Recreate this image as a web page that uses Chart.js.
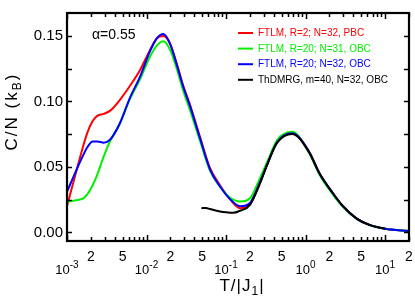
<!DOCTYPE html>
<html><head><meta charset="utf-8">
<script src="https://cdn.jsdelivr.net/npm/chart.js@4"></script>
<style>html,body{margin:0;padding:0;background:#fff}canvas{display:block}</style>
</head><body>
<canvas id="c" width="415" height="305"></canvas>
<script>
const FONT = '"Liberation Sans", Arial, Helvetica, sans-serif';

// ---- data ----
const temps = [0.001,0.0013,0.0016,0.0018,0.0021,0.0024,0.0029,0.0035,0.0046,0.0062,0.0083,0.011,0.0134,0.0163,0.0198,0.024,0.029,0.035,0.047,0.063,0.084,0.11,0.15,0.2,0.27,0.33,0.44,0.68,1.1,1.5,2.2,2.9,4.4,6.5,10,20];
const cR2PBC = [0.020,0.046,0.066,0.076,0.085,0.089,0.0905,0.093,0.101,0.112,0.124,0.139,0.148,0.150,0.144,0.129,0.112,0.098,0.073,0.049,0.036,0.026,0.0185,0.0215,0.039,0.052,0.069,0.0757,0.062,0.045,0.030,0.0205,0.0105,0.0055,0.0028,0.001];
const cR20N31 = [0.0234,0.0245,0.026,0.029,0.036,0.044,0.058,0.070,0.083,0.102,0.117,0.134,0.1425,0.146,0.1395,0.125,0.108,0.094,0.070,0.047,0.035,0.027,0.0235,0.026,0.042,0.054,0.0705,0.0768,0.061,0.044,0.029,0.020,0.0102,0.0054,0.0028,0.001];
const cR20N32 = [0.031,0.047,0.059,0.065,0.0695,0.0695,0.0685,0.071,0.083,0.103,0.119,0.138,0.148,0.1515,0.144,0.128,0.111,0.097,0.072,0.048,0.035,0.026,0.020,0.0225,0.039,0.052,0.069,0.0758,0.062,0.045,0.030,0.0205,0.0105,0.0055,0.0028,0.001];
const dmrgT = [0.049,0.056,0.063,0.084,0.1,0.122,0.15,0.2,0.27,0.33,0.44,0.68,1.1,1.5,2.2,2.9,4.4,6.5,10];
const cDMRG = [0.0185,0.0187,0.0178,0.016,0.0153,0.0149,0.0165,0.021,0.038,0.052,0.0685,0.0752,0.0615,0.045,0.030,0.0205,0.0105,0.0055,0.0028];

const seriesLabels = ['FTLM, R=2; N=32, PBC','FTLM, R=20; N=31, OBC','FTLM, R=20; N=32, OBC','ThDMRG, m=40, N=32, OBC'];
const seriesColors = ['#ff0000','#00f000','#0000ff','#000000'];

const yTickVals = [0,0.025,0.05,0.075,0.1,0.125,0.15];
const yLabelVals = [0,0.05,0.10,0.15];
const yLabels = ['0.00','0.05','0.10','0.15'];
const xMinorLabelVals = [0.002,0.005,0.02,0.05,0.2,0.5,2,5,20];
const xMinorLabels = ['2','5','2','5','2','5','2','5','2'];
const xDecadeVals = [0.001,0.01,0.1,1,10];
const xDecadeExp = ['-3','-2','-1','0','1'];
const annotation = 'α=0.55';

const pts = (xs, ys) => xs.map((x,i)=>({x, y: ys[i]}));
const xTickVals = [];
for (let e=-3;e<=1;e++) for (let m=1;m<=9;m++){ const v=m*Math.pow(10,e); if (v<=20.0001) xTickVals.push(+v.toPrecision(3)); }
xTickVals.push(20);

function ds(i, data, order){
  return {label: seriesLabels[i], data, borderColor: seriesColors[i], borderWidth: 2, pointRadius: 0,
    showLine: true, fill: false, cubicInterpolationMode: 'monotone', order};
}

function drawParts(ctx, parts, spacing){
  ctx.letterSpacing = spacing + 'px';
  let total = 0;
  parts.forEach(p=>{ ctx.font = p.size+'px '+FONT; p.w = ctx.measureText(p.t).width; total += p.w; });
  let x = -total/2;
  parts.forEach(p=>{ ctx.font = p.size+'px '+FONT; ctx.fillText(p.t, x, p.dy||0); x += p.w; });
  ctx.letterSpacing = '0px';
}

const deco = {
  id: 'deco',
  afterDraw(chart){
    const ctx = chart.ctx, a = chart.chartArea, xs = chart.scales.x, ys = chart.scales.y;
    ctx.save();
    ctx.strokeStyle = '#000'; ctx.fillStyle = '#000'; ctx.lineWidth = 1.5;
    // x ticks (inward, bottom & top)
    ctx.beginPath();
    xTickVals.forEach(v=>{
      const px = Math.round(xs.getPixelForValue(v))+0.5;
      const major = xDecadeVals.some(d=>Math.abs(d-v)<1e-9);
      const L = major ? 6 : 4;
      ctx.moveTo(px, a.bottom); ctx.lineTo(px, a.bottom-L);
      ctx.moveTo(px, a.top); ctx.lineTo(px, a.top+L);
    });
    // y ticks (inward, left & right)
    yTickVals.forEach(v=>{
      const py = Math.round(ys.getPixelForValue(v))+0.5;
      ctx.moveTo(a.left, py); ctx.lineTo(a.left+5, py);
      ctx.moveTo(a.right, py); ctx.lineTo(a.right-5, py);
    });
    ctx.stroke();
    // frame
    ctx.lineWidth = 2.2;
    ctx.strokeRect(a.left, a.top, a.right-a.left, a.bottom-a.top);
    // x tick labels
    ctx.textAlign = 'center'; ctx.textBaseline = 'alphabetic';
    ctx.font = '14px '+FONT;
    xMinorLabelVals.forEach((v,i)=>{
      ctx.fillText(xMinorLabels[i], xs.getPixelForValue(v), 261);
    });
    xDecadeVals.forEach((v,i)=>{
      const px = xs.getPixelForValue(v);
      ctx.font = '13px '+FONT; const w1 = ctx.measureText('10').width;
      ctx.font = '10px '+FONT; const w2 = ctx.measureText(xDecadeExp[i]).width;
      const x0 = px - (w1+w2)/2;
      ctx.textAlign = 'left';
      ctx.font = '13px '+FONT; ctx.fillText('10', x0, 274);
      ctx.font = '10px '+FONT; ctx.fillText(xDecadeExp[i], x0+w1, 268);
      ctx.textAlign = 'center';
    });
    // axis titles
    ctx.textAlign = 'left';
    ctx.save(); ctx.translate(242, 291);
    drawParts(ctx, [{t:'T/|J',size:17},{t:'1',size:12,dy:4},{t:'|',size:17}], 1);
    ctx.restore();
    ctx.save(); ctx.translate(17, 111.5); ctx.rotate(-Math.PI/2);
    drawParts(ctx, [{t:'C/N (k',size:17},{t:'B',size:12,dy:4},{t:')',size:17}], 2);
    ctx.restore();
    // annotation
    ctx.font = '14px '+FONT; ctx.fillText(annotation, 92, 39);
    // legend
    ctx.font = '10px '+FONT; ctx.textBaseline = 'middle';
    chart.data.datasets.forEach((d,i)=>{
      const y = 33 + i*15.6;
      ctx.strokeStyle = d.borderColor; ctx.lineWidth = 2;
      ctx.beginPath(); ctx.moveTo(238, y); ctx.lineTo(253, y); ctx.stroke();
      ctx.fillStyle = d.borderColor; ctx.fillText(d.label, 258, y+0.5);
    });
    ctx.restore();
  }
};

new Chart(document.getElementById('c'), {
  type: 'scatter',
  data: { datasets: [
    ds(0, pts(temps, cR2PBC), 3),
    ds(1, pts(temps, cR20N31), 2),
    ds(2, pts(temps, cR20N32), 1),
    ds(3, pts(dmrgT, cDMRG), 0)
  ]},
  options: {
    responsive: false, devicePixelRatio: 1, animation: false,
    layout: { padding: { top: 3, right: 6, left: 0, bottom: 0 } },
    plugins: { legend: { display: false }, tooltip: { enabled: false } },
    scales: {
      x: { type: 'logarithmic', min: 0.001, max: 20, position: 'bottom',
        grid: { display: false, drawTicks: false }, border: { display: false },
        ticks: { display: false },
        afterBuildTicks(s){ s.ticks = xTickVals.map(v=>({value:v})); },
        afterFit(s){ s.height = 64; } },
      y: { type: 'linear', min: -0.00659, max: 0.16756, position: 'left',
        grid: { display: false, drawTicks: false }, border: { display: false },
        ticks: { padding: 4, color: '#000', font: { family: FONT, size: 15 }, autoSkip: false,
          callback(v){ const i = yLabelVals.findIndex(t=>Math.abs(t-v)<1e-9); return i>=0 ? yLabels[i] : ''; } },
        afterBuildTicks(s){ s.ticks = yTickVals.map(v=>({value:v})); },
        afterFit(s){ s.width = 67; } }
    }
  },
  plugins: [deco]
});
</script>
</body></html>
